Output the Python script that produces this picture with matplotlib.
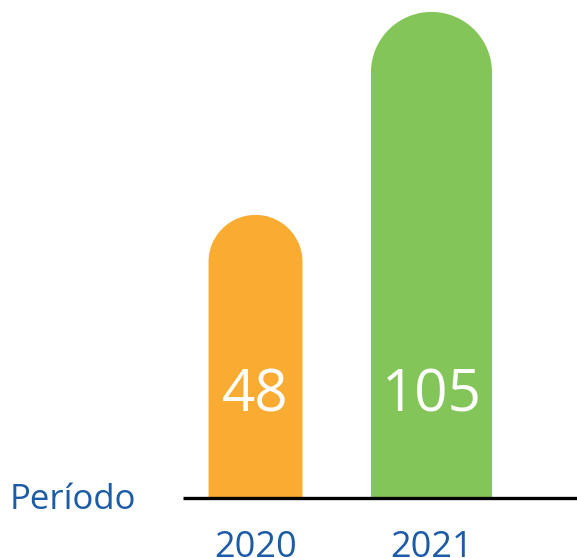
import numpy as np
import matplotlib
matplotlib.use("Agg")
import matplotlib.pyplot as plt
from matplotlib.patches import Polygon

# data
years = ["2020", "2021"]
values = [48, 105]
colors = ["#FAAC32", "#84C55A"]
widths = [0.534, 0.688]   # bar widths in category units
axis_label = "Período"

BLUE = "#1C5BA5"
BASE = -31.5              # bars rise from this level in the original artwork

plt.rcParams["font.family"] = ["Open Sans", "DejaVu Sans"]

fig = plt.figure(figsize=(5.77, 5.58), dpi=100, facecolor="white")
ax = fig.add_axes([0, 0, 1, 1])
ax.set_xlim(-1.452, 1.827)
ax.set_ylim(-48.35, 108.35)
ax.axis("off")

# pixel size of one data unit, to make the round caps circular
px_x = fig.bbox.width / (1.827 + 1.452)
px_y = fig.bbox.height / (108.35 + 48.35)

t = np.linspace(0, np.pi, 80)
for i, (v, c, w) in enumerate(zip(values, colors, widths)):
    rx = w / 2
    ry = rx * px_x / px_y
    cap_x = i + rx * np.cos(t)
    cap_y = (v - ry) + ry * np.sin(t)
    xs = np.concatenate([[i + rx], cap_x, [i - rx]])
    ys = np.concatenate([[BASE], cap_y, [BASE]])
    ax.add_patch(Polygon(np.column_stack([xs, ys]), closed=True, facecolor=c,
                         edgecolor="none", zorder=2))
    ax.annotate(str(v), xy=(i, BASE), xytext=(0, 73), textcoords="offset points",
                ha="center", va="center", fontsize=42, color="white", zorder=3)
    ax.annotate(years[i], xy=(i, BASE), xytext=(0, -36), textcoords="offset points",
                ha="center", va="center", fontsize=26, color=BLUE)

# baseline
ax.plot([-0.41, 1.827], [BASE, BASE], color="black", lw=2.4, zorder=4,
        solid_capstyle="butt")
fig.text(10 / 577, 1 - 500 / 558, axis_label, ha="left", va="center",
         fontsize=25, color=BLUE)

fig.savefig("out.png", dpi=100, facecolor="white")
